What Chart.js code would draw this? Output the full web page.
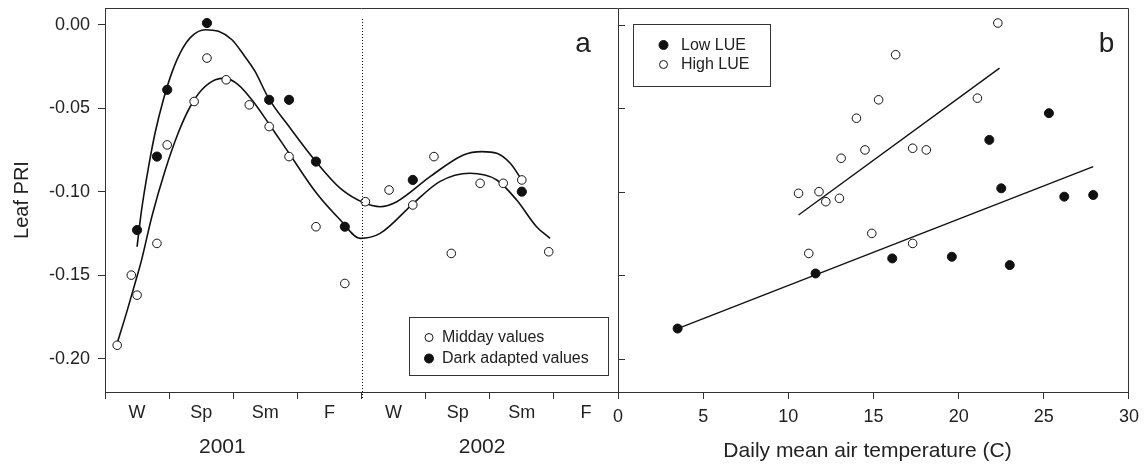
<!DOCTYPE html>
<html>
<head>
<meta charset="utf-8">
<script src="https://cdn.jsdelivr.net/npm/chart.js@4.4.1/dist/chart.umd.min.js"></script>
<style>
  body { margin: 0; background: #fff; }
  #wrap { position: relative; width: 1146px; height: 464px; }
  #wrap canvas { position: absolute; top: 0; }
</style>
</head>
<body>
<div id="wrap">
  <canvas id="chartA" width="625" height="464" style="left:0"></canvas>
  <canvas id="chartB" width="541" height="464" style="left:605px"></canvas>
</div>
<script>
// ---- panel a : seasonal PRI (x in season units, 0 = start of winter 2001) ----
const seasonLabels = ["W", "Sp", "Sm", "F", "W", "Sp", "Sm", "F"];
const seasonTicks = [0, 0.5, 1, 1.5, 2, 2.5, 3, 3.5, 4, 4.5, 5, 5.5, 6, 6.5, 7, 7.5, 8];
const yearLabels = ["2001", "2002"];
const yTicks = [-0.20, -0.15, -0.10, -0.05, 0.00];

const middayX = [0.19, 0.41, 0.50, 0.81, 0.97, 1.39, 1.59, 1.89, 2.25, 2.56, 2.87, 3.29, 3.74, 4.06, 4.43, 4.80, 5.13, 5.40, 5.85, 6.21, 6.50, 6.92];
const middayY = [-0.192, -0.150, -0.162, -0.131, -0.072, -0.046, -0.020, -0.033, -0.048, -0.061, -0.079, -0.121, -0.155, -0.106, -0.099, -0.108, -0.079, -0.137, -0.095, -0.095, -0.093, -0.136];

const darkX = [0.50, 0.81, 0.97, 1.59, 2.56, 2.87, 3.29, 3.74, 4.80, 6.50];
const darkY = [-0.123, -0.079, -0.039, 0.001, -0.045, -0.045, -0.082, -0.121, -0.093, -0.100];

// fitted curves
const darkFitX = [0.50, 0.57, 0.68, 0.78, 0.91, 1.04, 1.20, 1.35, 1.56, 1.77, 1.98, 2.18, 2.34, 2.55, 2.87, 3.29, 3.67, 4.06, 4.29, 4.55, 5.07, 5.59, 5.88, 6.11, 6.32, 6.50];
const darkFitY = [-0.133, -0.111, -0.085, -0.065, -0.045, -0.029, -0.015, -0.007, -0.003, -0.004, -0.009, -0.019, -0.028, -0.044, -0.061, -0.082, -0.098, -0.107, -0.109, -0.106, -0.091, -0.078, -0.076, -0.077, -0.083, -0.093];
const middayFitX = [0.18, 0.34, 0.49, 0.57, 0.73, 0.94, 1.14, 1.33, 1.51, 1.72, 1.87, 2.08, 2.29, 2.55, 2.87, 3.30, 3.67, 3.98, 4.29, 4.81, 5.22, 5.69, 6.11, 6.42, 6.73, 6.94];
const middayFitY = [-0.192, -0.172, -0.152, -0.141, -0.115, -0.087, -0.065, -0.049, -0.039, -0.033, -0.032, -0.036, -0.045, -0.059, -0.077, -0.101, -0.117, -0.128, -0.125, -0.107, -0.094, -0.089, -0.093, -0.105, -0.121, -0.128];

// ---- panel b : PRI vs daily mean air temperature ----
const lowTemp = [3.5, 11.6, 16.1, 19.6, 21.8, 22.5, 23.0, 25.3, 26.2, 27.9];
const lowPRI = [-0.182, -0.149, -0.140, -0.139, -0.069, -0.098, -0.144, -0.053, -0.103, -0.102];
const highTemp = [10.6, 11.2, 11.8, 12.2, 13.0, 13.1, 14.0, 14.5, 14.9, 15.3, 16.3, 17.3, 17.3, 18.1, 21.1, 22.3];
const highPRI = [-0.101, -0.137, -0.100, -0.106, -0.104, -0.080, -0.056, -0.075, -0.125, -0.045, -0.018, -0.074, -0.131, -0.075, -0.044, 0.001];
const lowFitTemp = [3.5, 27.9];
const lowFitPRI = [-0.182, -0.085];
const highFitTemp = [10.6, 22.4];
const highFitPRI = [-0.114, -0.026];
const tempTicks = [0, 5, 10, 15, 20, 25, 30];

const INK = "#111";
const AXIS = "#333";
const FONT = "'Liberation Sans', Arial, sans-serif";

function pts(xs, ys) {
    return xs.map((x, i) => ({ x: x, y: ys[i] }));
}

function circle(ctx, x, y, r, filled) {
    ctx.beginPath();
    ctx.arc(x, y, r, 0, Math.PI * 2);
    ctx.fillStyle = filled ? INK : "#fff";
    ctx.fill();
    ctx.lineWidth = 1;
    ctx.strokeStyle = INK;
    ctx.stroke();
}

// extra drawing for panel a: frame top, year split, year labels, letter, legend
const panelAExtras = {
    id: "panelAExtras",
    afterDraw(chart) {
        const { ctx, chartArea: a, scales } = chart;
        const x = scales.x;
        ctx.save();
        ctx.strokeStyle = AXIS;
        ctx.lineWidth = 1;
        ctx.beginPath();
        ctx.moveTo(a.left, a.top + 0.5);
        ctx.lineTo(a.right, a.top + 0.5);
        ctx.stroke();

        // dotted line between the two years
        const xs = Math.round(x.getPixelForValue(4)) + 0.5;
        ctx.setLineDash([1, 2]);
        ctx.strokeStyle = INK;
        ctx.beginPath();
        ctx.moveTo(xs, a.top + 11);
        ctx.lineTo(xs, a.bottom + 6);
        ctx.stroke();
        ctx.setLineDash([]);

        ctx.fillStyle = "#222";
        ctx.textAlign = "center";
        ctx.textBaseline = "middle";
        ctx.font = "21px " + FONT;
        ctx.fillText(yearLabels[0], x.getPixelForValue(1.83), 447);
        ctx.fillText(yearLabels[1], x.getPixelForValue(5.88), 447);

        ctx.textBaseline = "alphabetic";
        ctx.font = "28px " + FONT;
        ctx.fillText("a", 583, 52);

        // legend
        ctx.strokeStyle = AXIS;
        ctx.strokeRect(409.5, 317.5, 199, 58);
        ctx.textAlign = "left";
        ctx.textBaseline = "middle";
        ctx.font = "16px " + FONT;
        const ds = chart.data.datasets;
        circle(ctx, 429, 337.5, 4, false);
        ctx.fillStyle = "#222";
        ctx.fillText(ds[0].label, 442, 338);
        circle(ctx, 429, 358.5, 4.5, true);
        ctx.fillStyle = "#222";
        ctx.fillText(ds[1].label, 442, 359);
        ctx.restore();
    }
};

// extra drawing for panel b: shared y axis with inside ticks, frame, title, legend
const OFF = 605;
const panelBExtras = {
    id: "panelBExtras",
    afterDraw(chart) {
        const { ctx, chartArea: a, scales } = chart;
        const y = scales.y;
        ctx.save();
        ctx.strokeStyle = AXIS;
        ctx.lineWidth = 1;
        ctx.beginPath();
        ctx.moveTo(a.left + 0.5, a.bottom);
        ctx.lineTo(a.left + 0.5, a.top + 0.5);
        ctx.lineTo(a.right - 0.5, a.top + 0.5);
        ctx.lineTo(a.right - 0.5, a.bottom);
        yTicks.forEach(v => {
            const py = Math.round(y.getPixelForValue(v)) + 0.5;
            ctx.moveTo(a.left, py);
            ctx.lineTo(a.left + 7, py);
        });
        ctx.stroke();

        ctx.fillStyle = "#222";
        ctx.textAlign = "center";
        ctx.textBaseline = "middle";
        ctx.font = "21px " + FONT;
        ctx.fillText("Daily mean air temperature (C)", 867.5 - OFF, 451);

        ctx.textBaseline = "alphabetic";
        ctx.font = "28px " + FONT;
        ctx.fillText("b", 1106.5 - OFF, 52);

        // legend
        ctx.strokeStyle = AXIS;
        ctx.strokeRect(633.5 - OFF, 24.5, 137, 62);
        ctx.textAlign = "left";
        ctx.textBaseline = "middle";
        ctx.font = "16px " + FONT;
        const ds = chart.data.datasets;
        circle(ctx, 663.5 - OFF, 45, 4.5, true);
        ctx.fillStyle = "#222";
        ctx.fillText(ds[0].label, 681 - OFF, 45.5);
        circle(ctx, 663.5 - OFF, 64.5, 4, false);
        ctx.fillStyle = "#222";
        ctx.fillText(ds[1].label, 681 - OFF, 65);
        ctx.restore();
    }
};

const yScale = {
    min: -0.22,
    max: 0.01,
    afterBuildTicks: s => { s.ticks = yTicks.map(v => ({ value: v })); }
};

new Chart(document.getElementById("chartA").getContext("2d"), {
    type: "scatter",
    data: {
        datasets: [
            {
                label: "Midday values",
                data: pts(middayX, middayY),
                pointRadius: 4.3,
                pointBackgroundColor: "#fff",
                pointBorderColor: INK,
                pointBorderWidth: 1,
                order: 0
            },
            {
                label: "Dark adapted values",
                data: pts(darkX, darkY),
                pointRadius: 4.6,
                pointBackgroundColor: INK,
                pointBorderColor: INK,
                pointBorderWidth: 1,
                order: 0
            },
            {
                label: "dark fit",
                data: pts(darkFitX, darkFitY),
                showLine: true,
                pointRadius: 0,
                borderColor: INK,
                borderWidth: 1.6,
                cubicInterpolationMode: "monotone",
                order: 1
            },
            {
                label: "midday fit",
                data: pts(middayFitX, middayFitY),
                showLine: true,
                pointRadius: 0,
                borderColor: INK,
                borderWidth: 1.6,
                cubicInterpolationMode: "monotone",
                order: 1
            }
        ]
    },
    options: {
        responsive: false,
        animation: false,
        layout: { padding: { top: 8, right: 7, left: 0, bottom: 0 } },
        plugins: { legend: { display: false }, tooltip: { enabled: false } },
        scales: {
            x: {
                type: "linear",
                min: 0,
                max: 8,
                afterBuildTicks: s => { s.ticks = seasonTicks.map(v => ({ value: v })); },
                afterFit: s => { s.height = 72; s.paddingLeft = 0; s.paddingRight = 0; },
                ticks: {
                    autoSkip: false,
                    maxRotation: 0,
                    padding: 3,
                    color: "#222",
                    font: { family: FONT, size: 18 },
                    callback: v => {
                        const i = v - 0.5;
                        return Number.isInteger(i) ? seasonLabels[i] : "";
                    }
                },
                grid: {
                    drawOnChartArea: false,
                    tickLength: 7,
                    color: c => Number.isInteger(c.tick.value) ? AXIS : "rgba(0,0,0,0)",
                    tickColor: c => Number.isInteger(c.tick.value) ? AXIS : "rgba(0,0,0,0)"
                },
                border: { display: true, color: AXIS, width: 1 }
            },
            y: {
                ...yScale,
                afterFit: s => { s.width = 105; s.paddingTop = 0; s.paddingBottom = 0; },
                ticks: {
                    padding: 8,
                    color: "#222",
                    font: { family: FONT, size: 18 },
                    callback: v => v.toFixed(2)
                },
                grid: { drawOnChartArea: false, tickLength: 7, color: AXIS },
                border: { display: true, color: AXIS, width: 1 },
                title: {
                    display: true,
                    text: "Leaf PRI",
                    color: "#222",
                    font: { family: FONT, size: 20 },
                    padding: { top: 10 }
                }
            }
        }
    },
    plugins: [panelAExtras]
});

new Chart(document.getElementById("chartB").getContext("2d"), {
    type: "scatter",
    data: {
        datasets: [
            {
                label: "Low LUE",
                data: pts(lowTemp, lowPRI),
                pointRadius: 4.5,
                pointBackgroundColor: INK,
                pointBorderColor: INK,
                pointBorderWidth: 1,
                order: 0
            },
            {
                label: "High LUE",
                data: pts(highTemp, highPRI),
                pointRadius: 4.3,
                pointBackgroundColor: "#fff",
                pointBorderColor: INK,
                pointBorderWidth: 1,
                order: 0
            },
            {
                label: "low fit",
                data: pts(lowFitTemp, lowFitPRI),
                showLine: true,
                pointRadius: 0,
                borderColor: INK,
                borderWidth: 1.4,
                order: 1
            },
            {
                label: "high fit",
                data: pts(highFitTemp, highFitPRI),
                showLine: true,
                pointRadius: 0,
                borderColor: INK,
                borderWidth: 1.4,
                order: 1
            }
        ]
    },
    options: {
        responsive: false,
        animation: false,
        layout: { padding: { top: 8, right: 15, left: 13, bottom: 0 } },
        plugins: { legend: { display: false }, tooltip: { enabled: false } },
        scales: {
            x: {
                type: "linear",
                min: 0,
                max: 30,
                afterBuildTicks: s => { s.ticks = tempTicks.map(v => ({ value: v })); },
                afterFit: s => { s.height = 72; },
                ticks: {
                    autoSkip: false,
                    maxRotation: 0,
                    padding: 7,
                    color: "#222",
                    font: { family: FONT, size: 18 }
                },
                grid: { drawOnChartArea: false, tickLength: 7, color: AXIS },
                border: { display: true, color: AXIS, width: 1 }
            },
            y: {
                ...yScale,
                display: false
            }
        }
    },
    plugins: [panelBExtras]
});
</script>
</body>
</html>
